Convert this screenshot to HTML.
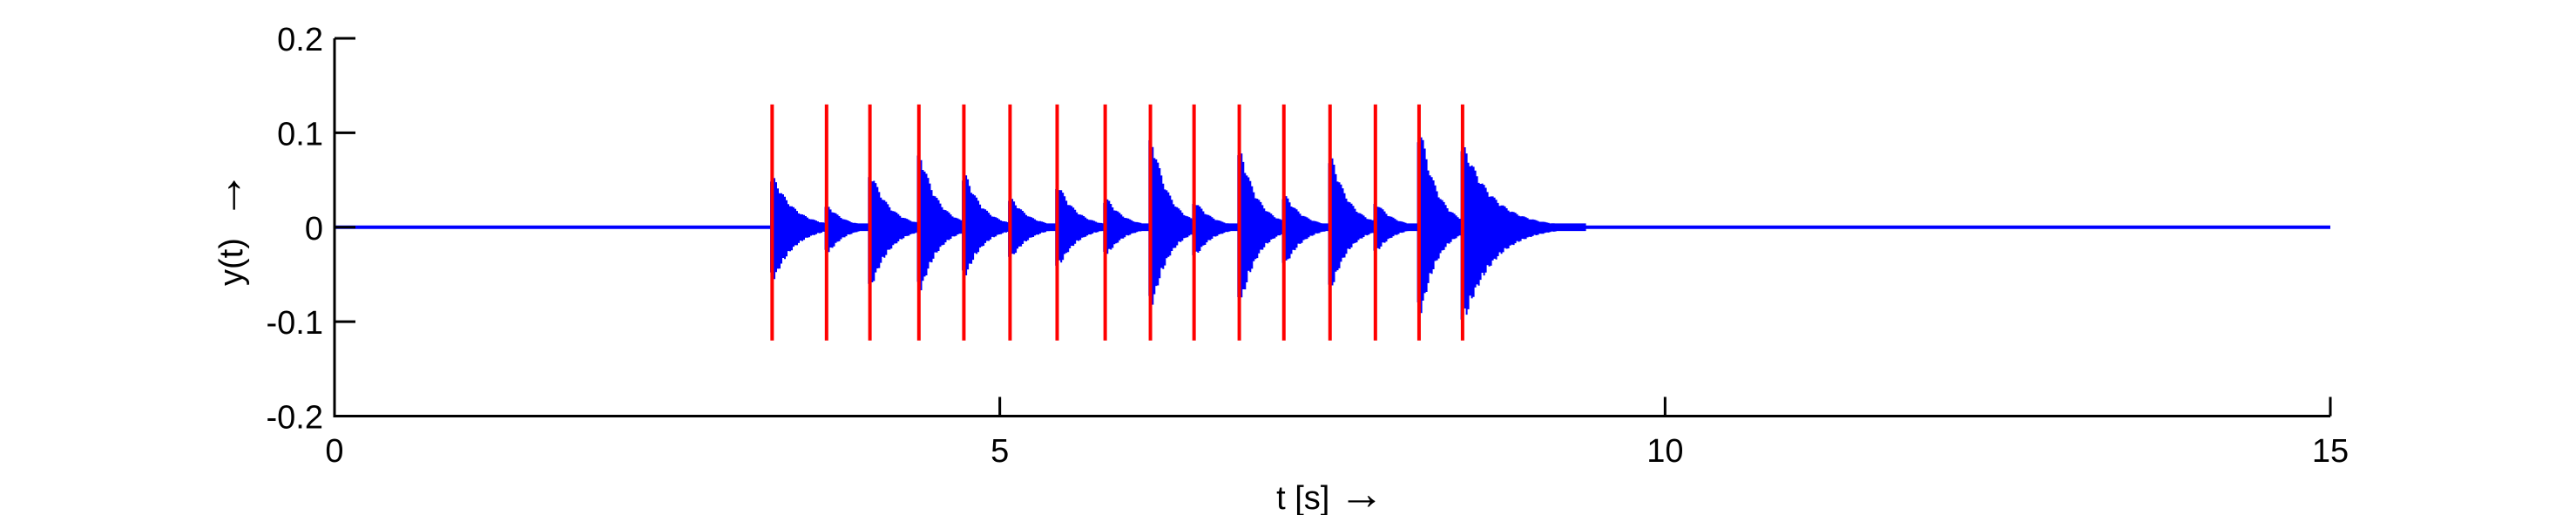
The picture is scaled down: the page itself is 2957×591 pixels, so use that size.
<!DOCTYPE html>
<html><head><meta charset="utf-8"><style>
html,body{margin:0;padding:0;background:#fff;}
svg{display:block;}
text{font-family:"Liberation Sans",sans-serif;fill:#000;}
</style></head><body>
<svg id="chart" width="2957" height="591" viewBox="0 0 2957 591" xmlns="http://www.w3.org/2000/svg"></svg>
<script>
const xTicks = [0, 5, 10, 15];
const xTickLabels = ["0", "5", "10", "15"];
const yTicks = [0.2, 0.1, 0, -0.1, -0.2];
const yTickLabels = ["0.2", "0.1", "0", "-0.1", "-0.2"];
const onsets = [3.289, 3.698, 4.024, 4.392, 4.730, 5.077, 5.431, 5.792, 6.132, 6.460, 6.800, 7.135, 7.482, 7.823, 8.151, 8.478];
const peaksPos = [0.052, 0.022, 0.055, 0.076, 0.055, 0.030, 0.043, 0.030, 0.092, 0.026, 0.079, 0.033, 0.073, 0.025, 0.100, 0.085];
const peaksNeg = [-0.055, -0.027, -0.061, -0.067, -0.051, -0.032, -0.041, -0.029, -0.082, -0.030, -0.079, -0.039, -0.063, -0.025, -0.091, -0.098];
const onsetLineTop = 0.13;
const onsetLineBottom = -0.12;
const signalEnd = 9.4;

const L = 384, R = 2675, T = 44, B = 477.5;
const xS = v => L + (v - 0) / 15 * (R - L);
const yS = v => B - (v + 0.2) / 0.4 * (B - T);
const NS = "http://www.w3.org/2000/svg";
const svg = document.getElementById('chart');
function mk(tag, attrs, parent) {
  const e = document.createElementNS(NS, tag);
  for (const k in attrs) e.setAttribute(k, attrs[k]);
  (parent || svg).appendChild(e);
  return e;
}

const base = mk('rect', {x: xS(0), y: yS(0) - 2, width: xS(15) - xS(0), height: 4, fill: '#0000ff'});



const sig = mk('g', {});


onsets.forEach((t0, i) => {
  const last = i === onsets.length - 1;
  const tEnd = last ? signalEnd : onsets[i + 1];
  const tau = last ? 0.22 : (tEnd - t0) / 2.6;
  const start = t0 - 0.015;
  const top = [], bot = [];
  const step = 2;
  for (let x = xS(start); x <= xS(tEnd) + 0.5; x += step) {
    const t = (x - L) / (R - L) * 15;
    const dt = Math.max(0, t - t0 - 0.015);
    const env = Math.exp(-dt / tau);
    const w1 = 0.85 + 0.15 * Math.abs(Math.sin(x * 1.3));
    const w2 = 0.85 + 0.15 * Math.abs(Math.cos(x * 1.1));
    const p = Math.max(0.004, peaksPos[i] * env * w1);
    const n = Math.min(-0.004, peaksNeg[i] * env * w2);
    top.push([x, yS(p)]); top.push([x + step, yS(p)]);
    bot.push([x, yS(n)]); bot.push([x + step, yS(n)]);
  }
  const pts = top.concat(bot.reverse()).map(p => p[0].toFixed(1) + ',' + p[1].toFixed(1)).join(' ');
  const poly = mk('polygon', {points: pts, fill: '#0000ff'}, sig);
  
  
});

onsets.forEach((t0, i) => {
  const ln = mk('line', {x1: xS(t0), x2: xS(t0), y1: yS(onsetLineTop), y2: yS(onsetLineBottom), stroke: '#ff0000', 'stroke-width': 4});
  
  
});

const ax = mk('path', {d: `M${L},${T} L${L},${B} L${R},${B}`, fill: 'none', stroke: '#000', 'stroke-width': 3});



yTicks.forEach((v, i) => {
  const y = yS(v);
  const tk = mk('line', {x1: L, x2: L + 24, y1: y, y2: y, stroke: '#000', 'stroke-width': 3});
  
  
  const tx = mk('text', {x: 371, y: y + 14, 'font-size': 38, 'text-anchor': 'end'});
  tx.textContent = yTickLabels[i];
  
  
});
xTicks.forEach((v, i) => {
  const x = xS(v);
  const tk = mk('line', {x1: x, x2: x, y1: B, y2: B - 22, stroke: '#000', 'stroke-width': 3});
  
  
  const tx = mk('text', {x: x, y: 530, 'font-size': 38, 'text-anchor': 'middle'});
  tx.textContent = xTickLabels[i];
  
  
});

const xl = mk('text', {x: 1527, y: 584, 'font-size': 38, 'text-anchor': 'middle'});


xl.style.whiteSpace = 'pre';
xl.appendChild(document.createTextNode('t [s] '));
const xa = mk('tspan', {'font-size': 52}, xl);
xa.textContent = '\u2192';

const yl = mk('text', {x: 0, y: 0, 'font-size': 38, 'text-anchor': 'middle', transform: 'translate(278,262) rotate(-90)'});
yl.style.whiteSpace = 'pre';


yl.appendChild(document.createTextNode('y(t)  '));
const ya = mk('tspan', {'font-size': 56}, yl);
ya.textContent = '\u2192';
</script>
</body></html>
